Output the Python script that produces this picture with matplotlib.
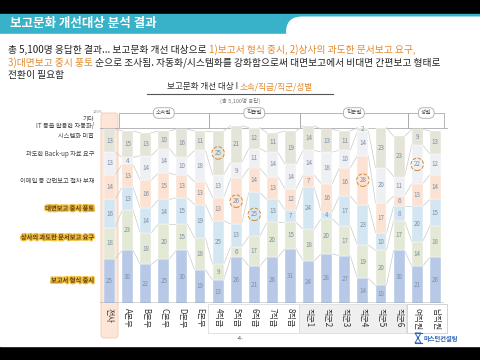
import matplotlib
matplotlib.use('Agg')
import matplotlib.pyplot as plt
import matplotlib.patheffects as pe
from matplotlib.patches import Rectangle, FancyBboxPatch, Polygon
import numpy as np

plt.rcParams['font.family'] = ['Noto Sans CJK KR', 'DejaVu Sans']

# 데이터 (단위: %)
columns = ['전사', 'A본부', 'B본부', 'C본부', 'D본부', 'E본부',
           '4직급', '5직급', '6직급', '7직급', '8직급',
           '직군1', '직군2', '직군3', '직군4', '직군5', '직군6',
           '여직원', '남직원']
categories = ['보고서 형식 중시', '상사의 과도한 문서보고 요구', '대면보고 중시 풍토',
              '이메일 등 간편보고 절차 부재', '과도한 Back-up 자료 요구',
              'IT 등을 활용한 자동화/\n시스템화 미흡']
form   = [25, 30, 22, 25, 30, 19, 13, 26, 21, 26, 31, 24, 28, 27, 14, 10, 30, 21, 26]
boss   = [18, 23, 18, 20, 15, 18,  9,  6, 17, 20, 15, 18, 20, 17, 19, 20, 17, 14, 18]
face   = [16, 13, 14, 14, 15, 19, 25, 13, 25, 13,  7, 24,  4, 17, 23, 10,  8, 20, 15]
email  = [14, 13, 16, 15, 13, 13, 13, 26, 14, 13, 12,  7, 16, 16, 28, 17,  6, 13, 14]
backup = [13,  4, 14, 14, 10, 18, 13,  9, 11, 14, 14, 14, 18, 10, 14, 20, 11, 22, 12]
it_sys = [13, 15, 13, 10, 16, 11, 25, 21, 12, 11, 19, 14, 13, 11,  2, 23, 23,  9, 13]
# 강조 표시 (열 번호, 항목 번호)
highlights = [(6, 5), (7, 3), (8, 2), (14, 3), (17, 4)]
groups = [('소속별', 1, 5), ('직급별', 6, 10), ('직군별', 11, 16), ('성별', 17, 18)]

colors = ['#b7c9e6', '#e3e9d5', '#d3e6f2', '#fbe2d2', '#eef0f4', '#e4e4d9']
series = [form, boss, face, email, backup, it_sys]

fig = plt.figure(figsize=(4.8, 3.6), dpi=100)

# 슬라이드 배경용 축 (픽셀 좌표)
bg = fig.add_axes([0, 0, 1, 1])
bg.set_xlim(0, 480)
bg.set_ylim(360, 0)
bg.axis('off')

bg.add_patch(Rectangle((0, 0), 480, 14, color='black'))
bg.add_patch(Rectangle((0, 346), 480, 14, color='black'))
bg.add_patch(Rectangle((0, 14), 480, 20, color='#38b2c9'))
bg.add_patch(FancyBboxPatch((286, 16.5), 230, 30, boxstyle='round,pad=0,rounding_size=16',
                            fc='white', ec='none'))
bg.add_patch(Rectangle((0, 34), 480, 312, color='white'))
bg.text(10, 24, '보고문화 개선대상 분석 결과', color='white', fontsize=9,
        fontweight='bold', va='center')

fig.canvas.draw()
renderer = fig.canvas.get_renderer()


def rich_line(x, y, parts, size, center=False):
    texts = []
    for s, c in parts:
        t = bg.text(x, y, s, color=c, fontsize=size, va='center', ha='left')
        w = t.get_window_extent(renderer=renderer).width
        texts.append(t)
        x += w
    if center:
        total = x - texts[0].get_position()[0]
        shift = total / 2
        for t in texts:
            px, py = t.get_position()
            t.set_position((px - shift, py))


orange = '#e2892d'
dark = '#222222'
rich_line(8, 50, [('총 5,100명 응답한 결과... 보고문화 개선 대상으로 ', dark),
                  ('1)보고서 형식 중시, 2)상사의 과도한 문서보고 요구,', orange)], 7)
rich_line(8, 63, [('3)대면보고 중시 풍토', orange),
                  (' 순으로 조사됨. 자동화/시스템화를 강화함으로써 대면보고에서 비대면 간편보고 형태로', dark)], 7)
rich_line(8, 75, [('전환이 필요함', dark)], 7)

rich_line(240, 87, [('보고문화 개선 대상 I ', '#333333'), ('소속/직급/직군/성별', orange)], 6.2,
          center=True)
bg.plot([147, 333], [94, 94], color='#555555', lw=0.8)
bg.text(240, 101, '(총 5,100명 응답)', fontsize=4, color='#777777', ha='center', va='center')

# 차트 축
n = len(columns)
ax = fig.add_axes([100.45 / 480, (360 - 303) / 360, 343.9 / 480, 186.0 / 360])
ax.set_xlim(-0.5, n - 0.5)
ax.set_ylim(0, 106)
ax.patch.set_alpha(0)
for s in ax.spines.values():
    s.set_visible(False)
ax.set_xticks([])
ax.set_yticks([])

# 전사 강조 배경
bg.add_patch(FancyBboxPatch((101, 113), 17, 225, boxstyle='round,pad=0,rounding_size=3',
                            fc='#fde6d8', ec='#f6c9ad', lw=0.6))
# 그룹 라벨 영역
bg.add_patch(Rectangle((208, 304), 91, 29, fc='white', ec='#dddddd', lw=0.6))
bg.add_patch(Rectangle((299, 304), 107, 29, fc='#efefef', ec='#dddddd', lw=0.6))
bg.add_patch(Rectangle((407, 304), 40, 29, fc='white', ec='#cccccc', lw=0.6))

x = np.arange(n)
width = 0.6
bottom = np.zeros(n)
cums = [bottom.copy()]
for vals, col in zip(series, colors):
    vals = np.array(vals, dtype=float)
    ax.bar(x, vals, width, bottom=bottom, color=col, edgecolor='white', linewidth=0.3, zorder=2)
    for i in range(n):
        ax.text(x[i], bottom[i] + vals[i] / 2, str(int(vals[i])), ha='center', va='center',
                fontsize=4.5, color='#7f90a6', zorder=4)
    bottom = bottom + vals
    cums.append(bottom.copy())

# 막대 사이 연결선
for c in cums[1:]:
    for i in range(n - 1):
        ax.plot([x[i] + width / 2, x[i + 1] - width / 2], [c[i], c[i + 1]],
                color='#c9c9c9', lw=0.5, zorder=1)

# 강조 원
for ci, ki in highlights:
    yc = cums[ki][ci] + series[ki][ci] / 2
    ax.scatter([x[ci]], [yc], s=80, facecolor='none', edgecolor='#d08a3c', linewidth=0.7,
               linestyle='--', zorder=5)

ax.axhline(0, color='#444444', lw=1.0, xmin=0, xmax=1)

for i, name in enumerate(columns):
    ax.text(x[i], -3, name, rotation=270, ha='center', va='top', fontsize=5.8,
            color='#333333')

# 그룹 헤더
for name, a, b in groups:
    x0 = 109.5 + 18.1 * a - 9
    x1 = 109.5 + 18.1 * b + 9
    bg.plot([x0, x0, x1, x1], [128, 113, 113, 128], color='#aaaaaa', lw=0.6)
    bg.text((x0 + x1) / 2, 113, name, fontsize=4, color='#555555', ha='center', va='center',
            bbox=dict(boxstyle='round,pad=0.5,rounding_size=0.9', fc='white', ec='#aaaaaa', lw=0.6))
bg.plot([100, 447], [128, 128], color='#aaaaaa', lw=0.6)

# 왼쪽 항목 라벨
bg.text(103, 112, '100%', fontsize=2.8, color='#888888', ha='right', va='center')
glow = [pe.withStroke(linewidth=2, foreground='#f0c040')]
left_labels = [('기타', 119, False),
               ('IT 등을 활용한 자동화/\n시스템화 미흡', 131, False),
               ('과도한 Back-up 자료 요구', 154, False),
               ('이메일 등 간편보고 절차 부재', 181, False),
               ('대면보고 중시 풍토', 208, True),
               ('상사의 과도한 문서보고 요구', 237, True),
               ('보고서 형식 중시', 280, True)]
for txt, yy, hl in left_labels:
    if hl:
        bg.text(94, yy, txt, fontsize=4.5, color='#5a3a10', ha='right', va='center',
                fontweight='bold', path_effects=glow)
    else:
        bg.text(94, yy, txt, fontsize=4.5, color='#444444', ha='right', va='center',
                linespacing=1.3)

bg.text(240, 339, '-4-', fontsize=4, color='#555555', ha='center', va='center')
bg.text(424, 338, '마스턴컨설팅', fontsize=4.5, color='#2a62b8', ha='left', va='center',
        fontweight='bold')
# 로고 모래시계 모양
bg.add_patch(Polygon([(415, 333), (421, 333), (418, 338), (421, 343), (415, 343), (418, 338)],
                     closed=True, fc='none', ec='#2a62b8', lw=0.7))
bg.plot([414.5, 421.5], [333, 333], color='#2a62b8', lw=0.8)
bg.plot([414.5, 421.5], [343, 343], color='#2a62b8', lw=0.8)

fig.savefig('out.png', dpi=100)
